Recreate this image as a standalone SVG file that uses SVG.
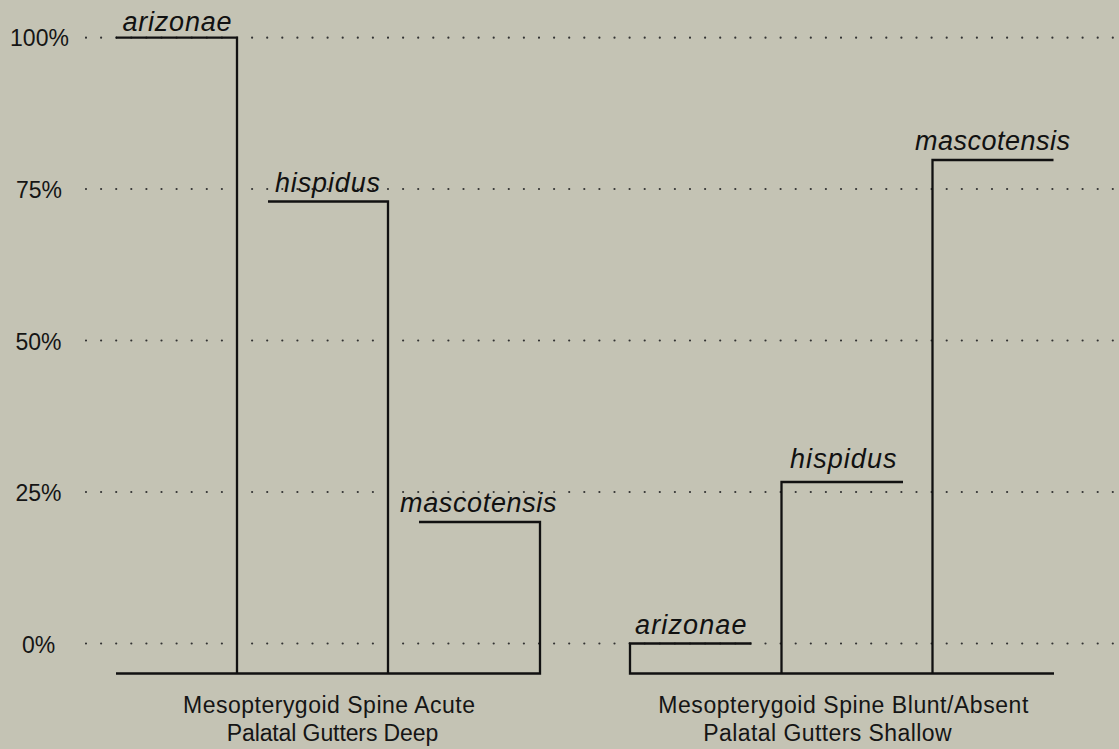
<svg xmlns="http://www.w3.org/2000/svg" width="1119" height="749" viewBox="0 0 1119 749">
<style>
.grid{stroke:#333;stroke-width:2.2;stroke-linecap:round;stroke-dasharray:0 15.1;fill:none}
.bar{stroke:#111;stroke-width:2.3;fill:none;stroke-linejoin:miter}
.ax{font-family:"Liberation Sans",Arial,sans-serif;font-size:23px;fill:#151515;text-anchor:middle}
.sp{font-family:"Liberation Sans",Arial,sans-serif;font-size:27px;font-style:italic;fill:#111}
.cat{font-family:"Liberation Sans",Arial,sans-serif;font-size:23px;fill:#151515}
</style>
<rect width="1119" height="749" fill="#c4c3b4"/>
<g id="grid">
<line class="grid" x1="86" y1="37.7" x2="1116" y2="37.7"/>
<line class="grid" x1="86" y1="189" x2="1116" y2="189"/>
<line class="grid" x1="86" y1="340.5" x2="1116" y2="340.5"/>
<line class="grid" x1="86" y1="492" x2="1116" y2="492"/>
<line class="grid" x1="86" y1="643.5" x2="1116" y2="643.5"/>
</g>
<g id="axis-labels">
<text class="ax" x="39.5" y="46">100%</text>
<text class="ax" x="39" y="198">75%</text>
<text class="ax" x="38.5" y="350">50%</text>
<text class="ax" x="38.5" y="501">25%</text>
<text class="ax" x="38.5" y="653">0%</text>
</g>
<g id="group-acute">
<path class="bar" d="M116,673.5 H540 V522 H419"/>
<path class="bar" d="M116,37.7 H237 V673.5"/>
<path class="bar" d="M268,201.5 H388 V673.5"/>
<text class="sp" x="122.5" y="30.5" textLength="109">arizonae</text>
<text class="sp" x="275" y="191.5" textLength="105">hispidus</text>
<text class="sp" x="400" y="511.5" textLength="156.5">mascotensis</text>
<text class="cat" x="183" y="713" textLength="292">Mesopterygoid Spine Acute</text>
<text class="cat" x="226.7" y="740.5" textLength="211.6">Palatal Gutters Deep</text>
</g>
<g id="group-blunt">
<path class="bar" d="M751.5,643.5 H630 V673.5 H1054"/>
<path class="bar" d="M903,482 H781.5 V673.5"/>
<path class="bar" d="M1053.5,160 H932.5 V673.5"/>
<text class="sp" x="635" y="633.5" textLength="111.5">arizonae</text>
<text class="sp" x="790" y="467.5" textLength="106.5">hispidus</text>
<text class="sp" x="915" y="149.5" textLength="155">mascotensis</text>
<text class="cat" x="658.3" y="713" textLength="370">Mesopterygoid Spine Blunt/Absent</text>
<text class="cat" x="703.3" y="740.5" textLength="248.4">Palatal Gutters Shallow</text>
</g>
</svg>
